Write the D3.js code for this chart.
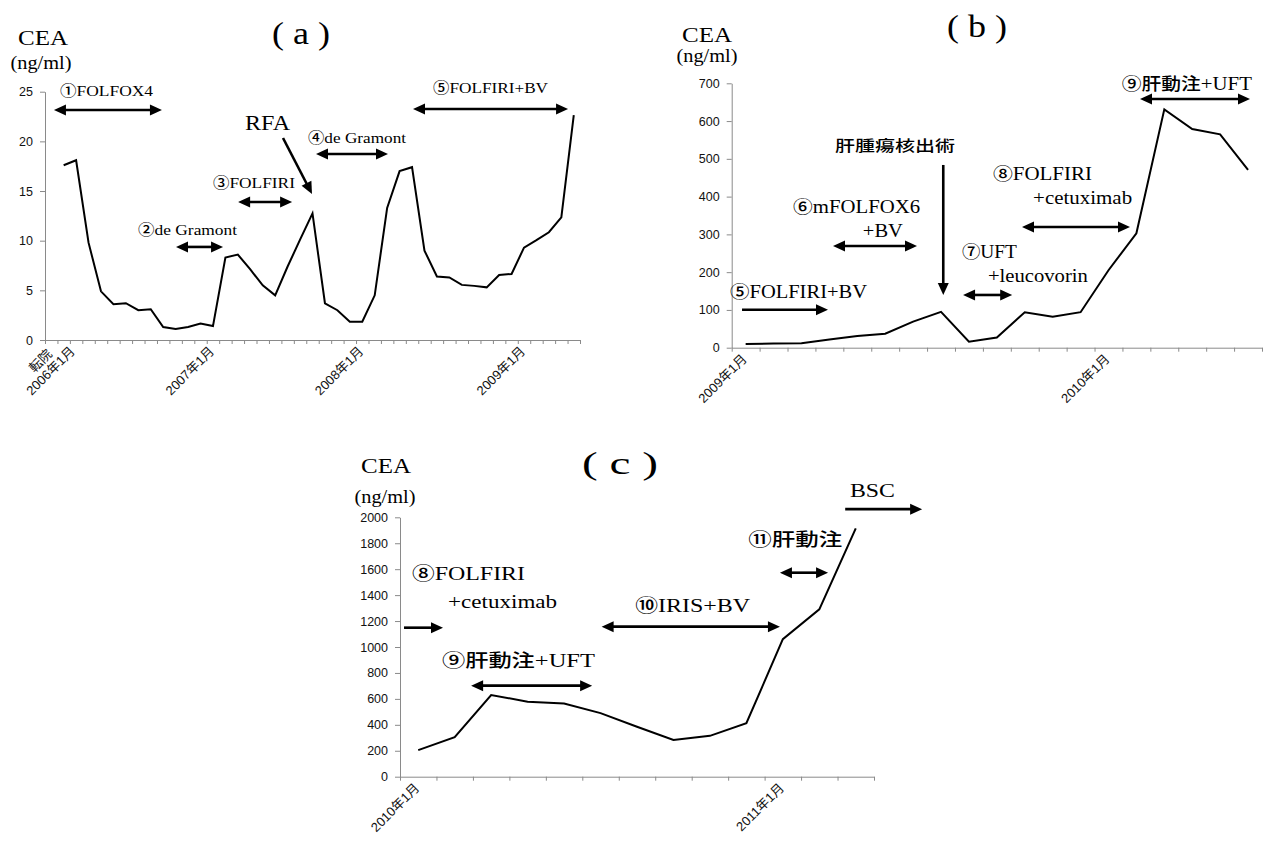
<!DOCTYPE html>
<html>
<head>
<meta charset="utf-8">
<script src="https://cdn.jsdelivr.net/npm/d3@7"></script>
<style>
  body { margin: 0; background: #fff; }
  svg { display: block; }
</style>
</head>
<body>
<svg id="chart" width="1269" height="846"></svg>
<script>
// ---- data (CEA, ng/ml, one value per visit) ----
var aValues = [17.6, 18.1, 9.8, 4.9, 3.6, 3.7, 3.0, 3.1, 1.3, 1.1, 1.3, 1.65, 1.4,
               8.3, 8.6, 7.1, 5.5, 4.5, 7.4, 10.1, 12.75, 3.7, 3.0, 1.85, 1.85, 4.5,
               13.3, 17.0, 17.4, 9.0, 6.4, 6.3, 5.55, 5.45, 5.3, 6.55, 6.65, 9.3,
               10.05, 10.85, 12.35, 22.65];
var aTicks = [0, 5, 10, 15, 20, 25];
var aLabelIdx = [0, 12, 24, 37];
var aLabelText = ["転院\n2006年1月", "2007年1月", "2008年1月", "2009年1月"];

var bValues = [10, 11, 12, 22, 31, 37, 69, 95, 16, 27, 94, 82, 94, 205, 303, 631, 579, 565, 471];
var bTicks = [0, 100, 200, 300, 400, 500, 600, 700];
var bLabelIdx = [0, 13];
var bLabelText = ["2009年1月", "2010年1月"];

var cValues = [205, 305, 630, 578, 565, 490, 385, 283, 315, 412, 1060, 1290, 1915];
var cTicks = [0, 200, 400, 600, 800, 1000, 1200, 1400, 1600, 1800, 2000];
var cLabelIdx = [0, 10];
var cLabelText = ["2010年1月", "2011年1月"];

// treatment annotations, in (visit index, CEA value) units
var aNotes = [
  {t: "①FOLFOX4", i: -0.29, v: 24.57, w: 93},
  {t: "②de Gramont", i: 5.98, v: 10.57, w: 99},
  {t: "③FOLFIRI", i: 12.0, v: 15.31, w: 82},
  {t: "RFA", i: 14.58, v: 21.15, w: 45, big: true},
  {t: "④de Gramont", i: 19.64, v: 19.84, w: 98},
  {t: "⑤FOLFIRI+BV", i: 29.69, v: 24.87, w: 115}
];
var aArrows = [
  {i0: -0.78, i1: 7.9, v0: 23.16, v1: 23.16, both: true},
  {i0: 9.03, i1: 12.81, v0: 9.37, v1: 9.37, both: true},
  {i0: 14.02, i1: 18.36, v0: 13.9, v1: 13.9, both: true},
  {i0: 17.63, i1: 19.96, v0: 20.34, v1: 14.7, both: false},
  {i0: 20.28, i1: 26.07, v0: 18.73, v1: 18.73, both: true},
  {i0: 28.08, i1: 40.54, v0: 23.26, v1: 23.26, both: true}
];

var bNotes = [
  {t: "肝腫瘍核出術", i: 3.2, v: 521, w: 120, jp: true},
  {t: "⑥mFOLFOX6", i: 1.7, v: 356.7, w: 127},
  {t: "+BV", i: 4.2, v: 293, w: 40},
  {t: "⑤FOLFIRI+BV", i: -0.56, v: 131.6, w: 137},
  {t: "⑦UFT", i: 7.75, v: 237.5, w: 55},
  {t: "+leucovorin", i: 8.68, v: 174, w: 100},
  {t: "⑧FOLFIRI", i: 8.86, v: 444, w: 99},
  {t: "+cetuximab", i: 10.3, v: 380.6, w: 99},
  {t: "⑨肝動注+UFT", i: 13.48, v: 682.5, w: 130}
];
var bArrows = [
  {i0: 7.08, i1: 7.08, v0: 483.8, v1: 139.6, both: false},
  {i0: 3.13, i1: 6.14, v0: 269.3, v1: 269.3, both: true},
  {i0: -0.13, i1: 2.95, v0: 100.3, v1: 100.3, both: false},
  {i0: 7.79, i1: 9.55, v0: 139.6, v1: 139.6, both: true},
  {i0: 9.9, i1: 13.77, v0: 319.6, v1: 319.6, both: true},
  {i0: 14.13, i1: 18.07, v0: 658.6, v1: 658.6, both: true}
];

var cNotes = [
  {t: "⑧FOLFIRI", i: -0.17, v: 1517, w: 113},
  {t: "+cetuximab", i: 0.82, v: 1301, w: 109},
  {t: "⑨肝動注+UFT", i: 0.65, v: 846, w: 153},
  {t: "⑩IRIS+BV", i: 5.95, v: 1270, w: 115},
  {t: "⑪肝動注", i: 9.05, v: 1779, w: 94},
  {t: "BSC", i: 11.84, v: 2157, w: 45}
];
var cArrows = [
  {i0: -0.39, i1: 0.68, v0: 1149, v1: 1149, both: false},
  {i0: 1.45, i1: 4.77, v0: 702, v1: 702, both: true},
  {i0: 5.03, i1: 9.92, v0: 1157, v1: 1157, both: true},
  {i0: 9.92, i1: 11.24, v0: 1573, v1: 1573, both: true},
  {i0: 11.71, i1: 13.82, v0: 2063, v1: 2063, both: false}
];

var serif = "'Liberation Serif','Times New Roman',serif";
var sans = "'Liberation Sans',Arial,'Noto Sans CJK JP',sans-serif";
var gothic = "'Noto Sans CJK JP',sans-serif";
var axisGrey = "#8a8a8a";

var svg = d3.select("#chart");

// panel layout: pixel boxes and headings
var panels = [
  {values: aValues, ticks: aTicks, labelIdx: aLabelIdx, labelText: aLabelText,
   notes: aNotes, arrows: aArrows, noteSize: 15,
   xDomain: [-1.5, 41.5], xRange: [45, 580], yMax: 25, yRange: [340, 91.7],
   title: "( a )", titleX: 301, titleY: 44, titleW: 58,
   ceaX: 43, ceaY: 45, unitX: 41, unitY: 69},
  {values: bValues, ticks: bTicks, labelIdx: bLabelIdx, labelText: bLabelText,
   notes: bNotes, arrows: bArrows, noteSize: 18,
   xDomain: [-0.5, 18.5], xRange: [731.7, 1262], yMax: 700, yRange: [347.7, 83.3],
   title: "( b )", titleX: 977, titleY: 37, titleW: 60,
   ceaX: 707, ceaY: 42, unitX: 707, unitY: 62},
  {values: cValues, ticks: cTicks, labelIdx: cLabelIdx, labelText: cLabelText,
   notes: cNotes, arrows: cArrows, noteSize: 19,
   xDomain: [-0.5, 12.5], xRange: [400, 874], yMax: 2000, yRange: [776.7, 517.3],
   title: "( c )", titleX: 620, titleY: 474, titleW: 76,
   ceaX: 386, ceaY: 473, unitX: 385, unitY: 503}
];

function drawArrow(g, x1, y1, x2, y2, both) {
  var len = 12, half = 5.5;
  var dx = x2 - x1, dy = y2 - y1, d = Math.sqrt(dx * dx + dy * dy);
  var ux = dx / d, uy = dy / d, px = -uy, py = ux;
  var sx = both ? x1 + ux * len * 0.8 : x1, sy = both ? y1 + uy * len * 0.8 : y1;
  g.append("line")
    .attr("x1", sx).attr("y1", sy)
    .attr("x2", x2 - ux * len * 0.8).attr("y2", y2 - uy * len * 0.8)
    .attr("stroke", "#000").attr("stroke-width", 2.6);
  function head(tx, ty, ax, ay) {
    var bx = tx - ax * len, by = ty - ay * len;
    g.append("path")
      .attr("d", "M" + tx + "," + ty + "L" + (bx + px * half) + "," + (by + py * half) +
                 "L" + (bx - px * half) + "," + (by - py * half) + "Z")
      .attr("fill", "#000");
  }
  head(x2, y2, ux, uy);
  if (both) head(x1, y1, -ux, -uy);
}

// circled numbers and Japanese words are set in a gothic face, the rest in serif
function noteParts(s) {
  var parts = [], re = /([\u2460-\u24ff\u3000-\u9fff]+)/;
  s.split(re).forEach(function(piece) {
    if (piece) parts.push({s: piece, jp: re.test(piece)});
  });
  return parts;
}

panels.forEach(function(p) {
  var g = svg.append("g");
  var x = d3.scaleLinear().domain(p.xDomain).range(p.xRange);
  var y = d3.scaleLinear().domain([0, p.yMax]).range(p.yRange);

  // axes, Excel style: category ticks between visits
  var yAxis = g.append("g")
    .attr("transform", "translate(" + p.xRange[0] + ",0)")
    .call(d3.axisLeft(y).tickValues(p.ticks).tickFormat(d3.format("d"))
      .tickSize(5).tickSizeOuter(0).tickPadding(7));
  var xAxis = g.append("g")
    .attr("transform", "translate(0," + p.yRange[0] + ")")
    .call(d3.axisBottom(x).tickValues(d3.range(p.xDomain[0], p.xDomain[1] + 0.01, 1))
      .tickSize(4).tickSizeOuter(0).tickFormat(""));
  [yAxis, xAxis].forEach(function(a) {
    a.select(".domain").attr("stroke", axisGrey);
    a.selectAll(".tick line").attr("stroke", axisGrey);
  });
  yAxis.selectAll(".tick text")
    .attr("font-family", sans).attr("font-size", 12.5).attr("fill", "#111");

  // rotated date labels
  p.labelIdx.forEach(function(idx, k) {
    var lines = p.labelText[k].split("\n");
    var t = g.append("text")
      .attr("transform", "translate(" + (x(idx) + 2 + 10 * (lines.length - 1)) + "," +
            (p.yRange[0] + 12) + ") rotate(-45)")
      .attr("text-anchor", "end")
      .attr("font-family", sans).attr("font-size", 13).attr("fill", "#111");
    var spans = lines.map(function(s) { return t.append("tspan").text(s); });
    var last = spans[spans.length - 1].node().getComputedTextLength();
    spans.forEach(function(sp, j) {
      var w = sp.node().getComputedTextLength();
      sp.attr("x", -(last - w) / 2).attr("y", (j - spans.length + 1) * 14);
    });
  });

  // CEA curve
  g.append("path")
    .datum(p.values)
    .attr("d", d3.line().x(function(d, i) { return x(i); }).y(function(d) { return y(d); }))
    .attr("fill", "none").attr("stroke", "#000").attr("stroke-width", 2)
    .attr("stroke-linejoin", "miter");

  // headings
  g.append("text").attr("x", p.ceaX).attr("y", p.ceaY).attr("text-anchor", "middle")
    .attr("font-family", serif).attr("font-size", 20)
    .attr("textLength", 50).attr("lengthAdjust", "spacingAndGlyphs").text("CEA");
  g.append("text").attr("x", p.unitX).attr("y", p.unitY).attr("text-anchor", "middle")
    .attr("font-family", serif).attr("font-size", 18)
    .attr("textLength", 61).attr("lengthAdjust", "spacingAndGlyphs").text("(ng/ml)");
  g.append("text").attr("x", p.titleX).attr("y", p.titleY).attr("text-anchor", "middle")
    .attr("font-family", serif).attr("font-size", 31)
    .attr("textLength", p.titleW).attr("lengthAdjust", "spacingAndGlyphs").text(p.title);

  // treatment notes and arrows
  p.notes.forEach(function(n) {
    var size = n.big ? 20 : (n.jp ? 16 : p.noteSize);
    var t = g.append("text").attr("x", x(n.i)).attr("y", y(n.v))
      .attr("font-family", serif).attr("font-size", size)
      .attr("textLength", n.w).attr("lengthAdjust", "spacingAndGlyphs");
    noteParts(n.t).forEach(function(part) {
      var sp = t.append("tspan").text(part.s);
      if (part.jp) sp.attr("font-family", gothic).attr("font-weight", 500)
        .attr("font-size", size * 0.95);
    });
  });
  p.arrows.forEach(function(a) {
    drawArrow(g, x(a.i0), y(a.v0), x(a.i1), y(a.v1), a.both);
  });
});
</script>
</body>
</html>
